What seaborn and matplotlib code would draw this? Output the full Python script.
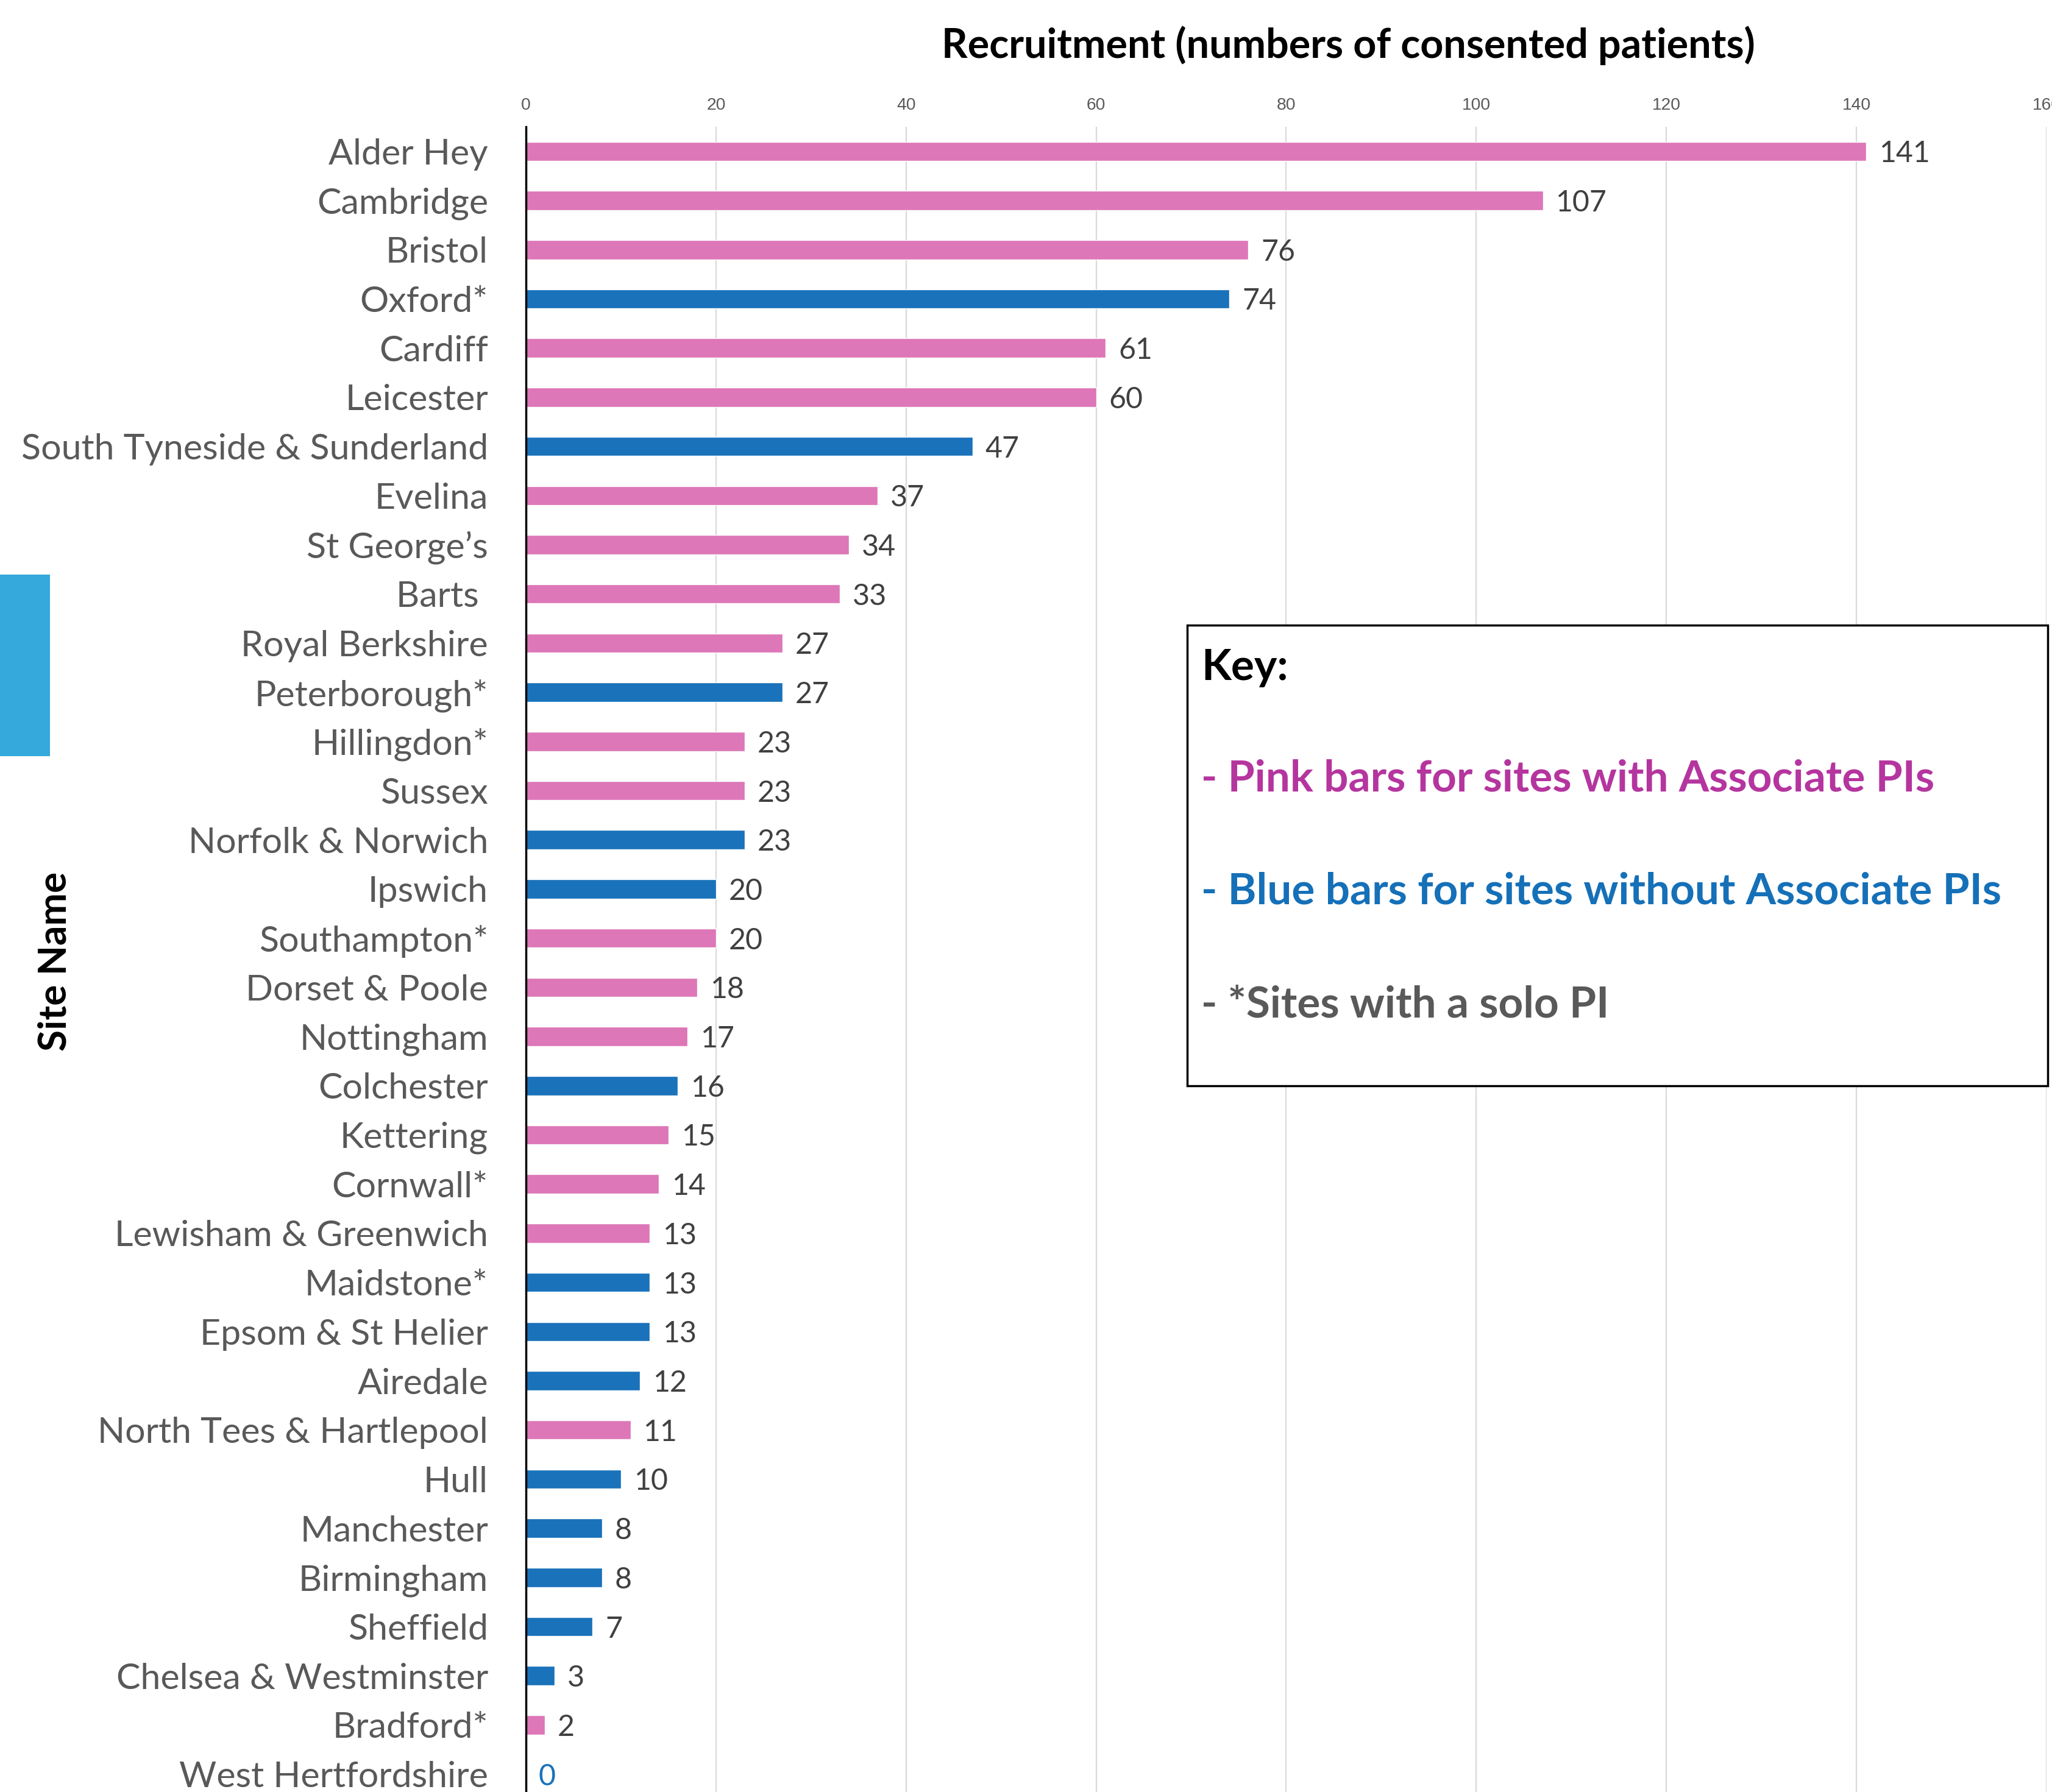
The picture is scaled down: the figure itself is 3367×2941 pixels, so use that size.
import matplotlib
matplotlib.use("Agg")
import matplotlib.pyplot as plt
import seaborn as sns
import pandas as pd
from matplotlib.patches import Rectangle

# ---------------- data ----------------
sites = ["Alder Hey", "Cambridge", "Bristol", "Oxford*", "Cardiff", "Leicester",
         "South Tyneside & Sunderland", "Evelina", "St George\u2019s", "Barts ",
         "Royal Berkshire", "Peterborough*", "Hillingdon*", "Sussex",
         "Norfolk & Norwich", "Ipswich", "Southampton*", "Dorset & Poole",
         "Nottingham", "Colchester", "Kettering", "Cornwall*",
         "Lewisham & Greenwich", "Maidstone*", "Epsom & St Helier", "Airedale",
         "North Tees & Hartlepool", "Hull", "Manchester", "Birmingham",
         "Sheffield", "Chelsea & Westminster", "Bradford*", "West Hertfordshire"]
values = [141, 107, 76, 74, 61, 60, 47, 37, 34, 33, 27, 27, 23, 23, 23, 20, 20,
          18, 17, 16, 15, 14, 13, 13, 13, 12, 11, 10, 8, 8, 7, 3, 2, 0]
groups = ["pink", "pink", "pink", "blue", "pink", "pink", "blue", "pink", "pink",
          "pink", "pink", "blue", "pink", "pink", "blue", "blue", "pink", "pink",
          "pink", "blue", "pink", "pink", "pink", "blue", "blue", "blue", "pink",
          "blue", "blue", "blue", "blue", "blue", "pink", "blue"]
x_ticks = [0, 20, 40, 60, 80, 100, 120, 140, 160]
title = "Recruitment (numbers of consented patients)"
ylabel = "Site Name"
key_lines = ["Key:",
             "- Pink bars for sites with Associate PIs",
             "- Blue bars for sites without Associate PIs",
             "- *Sites with a solo PI"]

# ---------------- style ----------------
PINK = "#DD77B7"
BLUE = "#1A72BA"
GRAY_TXT = "#595959"
VAL_TXT = "#404040"
sns.set_theme(style="white")
plt.rcParams["font.family"] = ["Lato", "DejaVu Sans"]

W, H, DPI = 3367, 2941, 100
fig = plt.figure(figsize=(W / DPI, H / DPI), dpi=DPI)
fig.patch.set_facecolor("white")
renderer = fig.canvas.get_renderer()


def fit_size(text, target, family, weight="normal", dim="w", rotation=0):
    t = fig.text(0, 0, text, fontsize=40, family=family, weight=weight, rotation=rotation)
    bb = t.get_window_extent(renderer)
    cur = bb.width if dim == "w" else bb.height
    t.remove()
    return 40 * target / cur


ax_left, ax_right, ax_top, ax_bot = 863, 3358, 208, 2952
ax = fig.add_axes([ax_left / W, 1 - ax_bot / H, (ax_right - ax_left) / W, (ax_bot - ax_top) / H])

df = pd.DataFrame({"site": sites, "value": values, "group": groups})
sns.barplot(data=df, x="value", y="site", hue="group", order=sites,
            hue_order=["pink", "blue"], palette={"pink": PINK, "blue": BLUE},
            dodge=False, width=0.39, orient="h", saturation=1, legend=False, ax=ax)

ax.set_xlim(0, 160)
ax.set_xticks(x_ticks)
ax.xaxis.tick_top()
ax.set_xlabel("")
ax.set_ylabel("")
ax.grid(axis="x", color="#D9D9D9", linewidth=1.6)
ax.grid(axis="y", visible=False)
ax.set_axisbelow(True)
for s in ["top", "right", "bottom"]:
    ax.spines[s].set_visible(False)
ax.spines["left"].set_color("black")
ax.spines["left"].set_linewidth(2.5)
ax.spines["left"].set_zorder(5)

lab_fam = ["Lato", "DejaVu Sans"]
lab_size = fit_size("South Tyneside & Sunderland", 767, lab_fam)
tick_fam = ["Liberation Sans", "DejaVu Sans"]
tick_size = fit_size("100", 47, tick_fam)

ax.tick_params(axis="y", length=0, pad=62 * 72 / DPI, labelsize=lab_size, labelcolor=GRAY_TXT)
ax.tick_params(axis="x", length=0, pad=16, labelsize=tick_size, labelcolor=GRAY_TXT)
for t in ax.get_xticklabels():
    t.set_family(tick_fam)
for t in ax.get_yticklabels():
    t.set_family(lab_fam)

# value labels
val_size = fit_size("141", 84, lab_fam)
for i, v in enumerate(values):
    ax.annotate(str(v), xy=(v, i), xytext=(21, 0), textcoords="offset pixels",
                ha="left", va="center_baseline", fontsize=val_size, family=lab_fam,
                color=(BLUE if v == 0 else VAL_TXT), annotation_clip=False)

# title
title_size = fit_size(title, 1334, lab_fam, weight="bold")
fig.text(2212 / W, 1 - 75 / H, title, ha="center", va="center", fontsize=title_size,
         weight="bold", color="black", family=lab_fam)

# y label
yl_size = fit_size(ylabel, 294, lab_fam, weight="bold", dim="h", rotation=90)
fig.text(90 / W, 1 - 1578 / H, ylabel, ha="center", va="center", rotation=90,
         fontsize=yl_size, weight="bold", color="black", family=lab_fam)

# decorative blue tab on left edge
fig.patches.append(Rectangle((0, 1 - 1241 / H), 82 / W, (1241 - 943) / H,
                             transform=fig.transFigure, facecolor="#35A8DC",
                             edgecolor="none", zorder=3))

# key box
bx0, bx1, by0, by1 = 1948, 3360, 1026, 1782
fig.patches.append(Rectangle((bx0 / W, 1 - by1 / H), (bx1 - bx0) / W, (by1 - by0) / H,
                             transform=fig.transFigure, facecolor="white",
                             edgecolor="black", linewidth=2.5, zorder=6))
key_y = [1089, 1272, 1457, 1643]
key_cols = ["black", "#B5359F", "#1570B8", GRAY_TXT]
ksize = fit_size(key_lines[2], 1314, lab_fam, weight="bold")
for txt, yy, col in zip(key_lines, key_y, key_cols):
    fig.text(1971 / W, 1 - yy / H, txt, ha="left", va="center_baseline", fontsize=ksize,
             weight="bold", color=col, family=lab_fam, zorder=7)

fig.savefig("out.png", dpi=DPI, facecolor="white")
